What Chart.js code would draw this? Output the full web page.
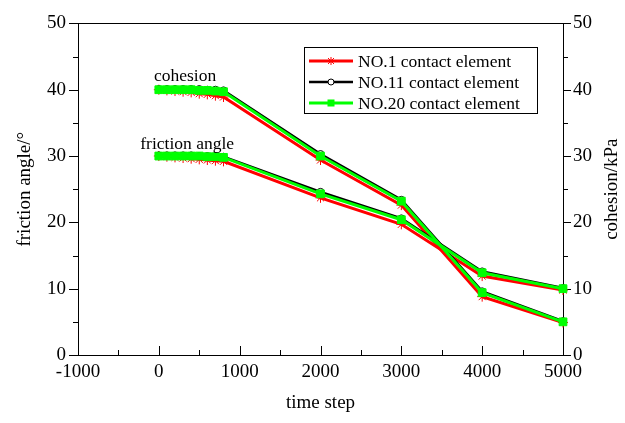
<!DOCTYPE html>
<html>
<head>
<meta charset="utf-8">
<script src="https://cdn.jsdelivr.net/npm/chart.js@4.4.1/dist/chart.umd.min.js"></script>
<style>
  html, body { margin: 0; padding: 0; background: #fff; }
  #wrap { width: 625px; height: 423px; }
</style>
</head>
<body>
<div id="wrap"><canvas id="c" width="625" height="423"></canvas></div>
<script>
// ---- data ----
const timeSteps = [0, 100, 200, 300, 400, 500, 600, 700, 800, 2000, 3000, 4000, 5000];
const cohesionNO1  = [40, 39.9, 39.8, 39.7, 39.6, 39.4, 39.3, 39.1, 38.9, 29.4, 22.6, 8.8, 4.9];
const cohesionNO11 = [40.1, 40.1, 40.1, 40.1, 40.1, 40.1, 40.0, 40.0, 39.9, 30.3, 23.4, 9.6, 5.1];
const cohesionNO20 = [40, 40, 40, 40, 40, 39.9, 39.9, 39.8, 39.7, 30.0, 23.2, 9.4, 5.0];
const frictionNO1  = [30, 29.9, 29.8, 29.7, 29.6, 29.5, 29.4, 29.3, 29.2, 23.7, 19.7, 11.9, 9.8];
const frictionNO11 = [30.1, 30.1, 30.1, 30.1, 30.1, 30.0, 30.0, 30.0, 29.9, 24.6, 20.6, 12.6, 10.1];
const frictionNO20 = [30, 30, 30, 30, 30, 30, 29.9, 29.9, 29.8, 24.3, 20.4, 12.4, 10.0];
const seriesNames = ['NO.1 contact element', 'NO.11 contact element', 'NO.20 contact element'];
const xTicks = [-1000, 0, 1000, 2000, 3000, 4000, 5000];
const yTicks = [0, 10, 20, 30, 40, 50];
const annotations = [
  { text: 'cohesion', x: -60, y: 41.3 },
  { text: 'friction angle', x: -230, y: 31.1 }
];
const leftTitle = 'friction angle/°';
const rightTitle = 'cohesion/kPa';
const bottomTitle = 'time step';

const FONT = '"Liberation Serif", "Times New Roman", serif';
const styles = [
  { color: '#ff0000', width: 3, pointStyle: 'star', radius: 5, fill: '#ff0000', order: 3 },
  { color: '#000000', width: 2.5, pointStyle: 'circle', radius: 3.5, fill: '#ffffff', order: 2 },
  { color: '#00ff00', width: 3, pointStyle: 'rect', radius: 5.5, fill: '#00ff00', order: 1 }
];

function mk(vals, s, axis, label) {
  return {
    label: label,
    data: timeSteps.map((t, i) => ({ x: t, y: vals[i] })),
    yAxisID: axis,
    borderColor: s.color,
    borderWidth: s.width,
    backgroundColor: s.fill,
    pointStyle: s.pointStyle,
    pointRadius: s.radius,
    pointBorderColor: s.color,
    pointBackgroundColor: s.fill,
    pointBorderWidth: 1,
    tension: 0,
    clip: false,
    order: s.order
  };
}

const datasets = [
  mk(frictionNO1, styles[0], 'y', seriesNames[0]),
  mk(frictionNO11, styles[1], 'y', seriesNames[1]),
  mk(frictionNO20, styles[2], 'y', seriesNames[2]),
  mk(cohesionNO1, styles[0], 'y2', seriesNames[0]),
  mk(cohesionNO11, styles[1], 'y2', seriesNames[1]),
  mk(cohesionNO20, styles[2], 'y2', seriesNames[2])
];

const frameAndTicks = {
  id: 'frameAndTicks',
  beforeDatasetsDraw(chart) {
    const { ctx, chartArea: a, scales } = chart;
    ctx.save();
    ctx.strokeStyle = '#000';
    ctx.lineWidth = 1;
    ctx.strokeRect(Math.round(a.left) + 0.5, Math.round(a.top) + 0.5,
                   Math.round(a.right - a.left), Math.round(a.bottom - a.top));
    ctx.beginPath();
    for (let v = -1000; v <= 5000; v += 500) {
      const px = Math.round(scales.x.getPixelForValue(v)) + 0.5;
      const len = (v % 1000 === 0) ? 9 : 5;
      ctx.moveTo(px, a.bottom);
      ctx.lineTo(px, a.bottom - len);
    }
    for (let v = 0; v <= 50; v += 5) {
      const py = Math.round(scales.y.getPixelForValue(v)) + 0.5;
      const len = (v % 10 === 0) ? 9 : 5;
      ctx.moveTo(a.left, py);
      ctx.lineTo(a.left - len, py);
    }
    for (let v = 0; v <= 50; v += 5) {
      const py = Math.round(scales.y2.getPixelForValue(v)) + 0.5;
      const len = (v % 10 === 0) ? 8 : 5;
      ctx.moveTo(a.right, py);
      ctx.lineTo(a.right + len, py);
    }
    ctx.stroke();
    ctx.restore();
  },
  afterDraw(chart) {
    const { ctx, chartArea: a, scales } = chart;
    ctx.save();
    ctx.fillStyle = '#000';
    // right axis title (reads bottom to top)
    ctx.font = '19px ' + FONT;
    ctx.textAlign = 'center';
    ctx.textBaseline = 'middle';
    ctx.save();
    ctx.translate(612, (a.top + a.bottom) / 2);
    ctx.rotate(-Math.PI / 2);
    ctx.fillText(rightTitle, 0, 0);
    ctx.restore();
    // annotations
    ctx.font = '17.5px ' + FONT;
    ctx.textBaseline = 'alphabetic';
    ctx.textAlign = 'left';
    annotations.forEach(an => {
      ctx.fillText(an.text, scales.x.getPixelForValue(an.x), scales.y.getPixelForValue(an.y));
    });
    // legend
    const lx = 304, ly = 47, lw = 233, lh = 66;
    ctx.fillStyle = '#fff';
    ctx.fillRect(lx, ly, lw, lh);
    ctx.strokeStyle = '#000';
    ctx.lineWidth = 1;
    ctx.strokeRect(lx + 0.5, ly + 0.5, lw, lh);
    ctx.font = '17.5px ' + FONT;
    ctx.textBaseline = 'middle';
    seriesNames.forEach((name, i) => {
      const s = styles[i];
      const y = ly + 14 + i * 21;
      const mx = lx + 27;
      ctx.strokeStyle = s.color;
      ctx.lineWidth = s.width;
      ctx.beginPath();
      ctx.moveTo(lx + 5, y);
      ctx.lineTo(lx + 49, y);
      ctx.stroke();
      ctx.fillStyle = s.fill;
      ctx.strokeStyle = s.color;
      ctx.lineWidth = 1;
      ctx.beginPath();
      if (s.pointStyle === 'rect') {
        ctx.fillRect(mx - 3.5, y - 3.5, 7, 7);
      } else if (s.pointStyle === 'circle') {
        ctx.arc(mx, y, 3, 0, Math.PI * 2);
        ctx.fill(); ctx.stroke();
      } else {
        ctx.moveTo(mx - 4, y); ctx.lineTo(mx + 4, y);
        ctx.moveTo(mx, y - 4); ctx.lineTo(mx, y + 4);
        ctx.moveTo(mx - 3, y - 3); ctx.lineTo(mx + 3, y + 3);
        ctx.moveTo(mx - 3, y + 3); ctx.lineTo(mx + 3, y - 3);
        ctx.stroke();
      }
      ctx.fillStyle = '#000';
      ctx.fillText(name, lx + 54, y + 1);
    });
    ctx.restore();
  }
};

const tickFont = { family: FONT, size: 19 };
const titleFont = { family: FONT, size: 19, lineHeight: 1 };
const plain = v => String(v);

new Chart(document.getElementById('c'), {
  type: 'line',
  data: { datasets: datasets },
  options: {
    responsive: false,
    animation: false,
    devicePixelRatio: 1,
    layout: { padding: { top: 22, left: 0, right: 0, bottom: 0 } },
    plugins: { legend: { display: false }, tooltip: { enabled: false } },
    scales: {
      x: {
        type: 'linear', position: 'bottom', min: -1000, max: 5000,
        afterFit(s) { s.height = 68; },
        afterBuildTicks(s) { s.ticks = xTicks.map(v => ({ value: v })); },
        grid: { display: false, drawTicks: false },
        border: { display: false },
        ticks: { color: '#000', font: tickFont, padding: 6, maxRotation: 0, autoSkip: false, callback: plain },
        title: { display: true, text: bottomTitle, color: '#000', font: titleFont, padding: { top: 0, bottom: 10 } }
      },
      y: {
        type: 'linear', position: 'left', min: 0, max: 50,
        afterFit(s) { s.width = 78; },
        afterBuildTicks(s) { s.ticks = yTicks.map(v => ({ value: v })); },
        grid: { display: false, drawTicks: false },
        border: { display: false },
        ticks: { color: '#000', font: tickFont, padding: 12, callback: plain },
        title: { display: true, text: leftTitle, color: '#000', font: titleFont, padding: { top: 16, bottom: 0 } }
      },
      y2: {
        type: 'linear', position: 'right', min: 0, max: 50,
        afterFit(s) { s.width = 62; },
        afterBuildTicks(s) { s.ticks = yTicks.map(v => ({ value: v })); },
        grid: { display: false, drawTicks: false },
        border: { display: false },
        ticks: { color: '#000', font: tickFont, padding: 10, callback: plain },
        title: { display: false }
      }
    }
  },
  plugins: [frameAndTicks]
});
</script>
</body>
</html>
